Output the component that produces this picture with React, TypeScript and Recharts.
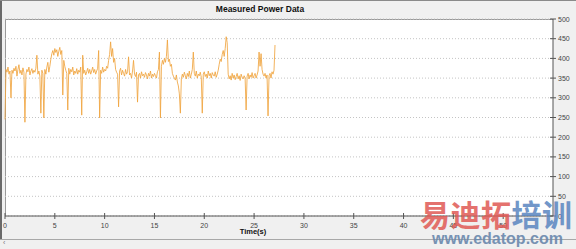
import React from 'react'
import { LineChart, Line, XAxis, YAxis, CartesianGrid } from 'recharts'

// sampled every 0.1 s
const SAMPLE_STEP = 0.1

const POWER = [
  245, 372, 365, 378, 360, 368, 300, 370, 362, 375,
  368, 380, 355, 372, 384, 362, 370, 358, 376, 365,
  238, 360, 372, 366, 378, 358, 368, 374, 362, 370,
  365, 375, 408, 360, 368, 355, 261, 370, 362, 249,
  372, 360, 378, 390, 365, 380, 398, 412, 420, 408,
  425, 415, 422, 405, 418, 428, 410, 420, 307, 395,
  380, 370, 362, 269, 375, 360, 372, 366, 378, 358,
  368, 362, 374, 360, 370, 365, 378, 256, 408, 362,
  370, 358, 366, 375, 362, 372, 360, 368, 378, 364,
  372, 360, 368, 375, 420, 249, 370, 362, 378, 365,
  372, 368, 380, 375, 395, 410, 442, 405, 425, 390,
  400, 372, 365, 360, 277, 368, 375, 358, 370, 362,
  355, 372, 360, 366, 404, 358, 362, 350, 368, 395,
  360, 354, 365, 289, 358, 362, 350, 366, 356, 360,
  352, 364, 358, 348, 362, 355, 368, 350, 360, 354,
  362, 356, 350, 366, 372, 416, 249, 380, 395, 385,
  400, 390, 405, 447, 392, 398, 380, 385, 362, 355,
  350, 345, 358, 340, 330, 310, 261, 348, 360, 352,
  365, 356, 348, 362, 354, 368, 350, 360, 372, 416,
  362, 355, 368, 350, 360, 356, 365, 352, 261, 360,
  366, 354, 360, 350, 368, 356, 362, 350, 364, 358,
  355, 366, 352, 360, 370, 385, 398, 392, 410, 420,
  405, 425, 455, 440, 360, 348, 356, 345, 362, 350,
  358, 346, 354, 362, 348, 356, 344, 360, 352, 348,
  356, 350, 269, 355, 362, 348, 358, 352, 364, 350,
  356, 362, 350, 358, 368, 416, 380, 412, 372, 360,
  355, 362, 350, 358, 254, 356, 362, 350, 366, 360,
  370, 434,
]

const X_TICKS = [0, 5, 10, 15, 20, 25, 30, 35, 40, 45, 50]
const Y_TICKS = [0, 50, 100, 150, 200, 250, 300, 350, 400, 450, 500]

const data = POWER.map((p, i) => ({ t: +(i * SAMPLE_STEP).toFixed(1), p }))

const FONT = '"Liberation Sans", Arial, sans-serif'

const XTick = ({ x, y, payload }: any) => (
  <g>
    <line x1={x} x2={x} y1={y - 3} y2={y + 3} stroke="#555" />
    <text x={x} y={y + 11.5} textAnchor="middle" fontSize={7} fill="#444" fontFamily={FONT}>
      {payload.value}
    </text>
  </g>
)

const YTick = ({ x, y, payload }: any) => (
  <g>
    <line x1={x - 3} x2={x + 3} y1={y} y2={y} stroke="#555" />
    <text x={x + 5} y={y + 2.5} textAnchor="start" fontSize={7} fill="#444" fontFamily={FONT}>
      {payload.value}
    </text>
  </g>
)

export default function App() {
  return (
    <div
      style={{
        position: 'absolute',
        left: 0,
        top: 0,
        width: 576,
        height: 249,
        background: '#f0f0f0',
        overflow: 'hidden',
        fontFamily: FONT,
      }}
    >
      <div style={{ position: 'absolute', left: 0, top: 0, width: 2, height: 240, background: '#6a6a6a' }} />
      <div style={{ position: 'absolute', left: 0, top: 0, width: 576, height: 1, background: '#8a8a8a' }} />
      <div style={{ position: 'absolute', left: 0, top: 239, width: 576, height: 1, background: '#a8a8a8' }} />
      <div style={{ position: 'absolute', left: 3, top: 239, fontSize: 7, color: '#777' }}>‹</div>

      <div
        style={{
          position: 'absolute',
          left: 160,
          width: 200,
          top: 4,
          textAlign: 'center',
          fontSize: 8.5,
          fontWeight: 'bold',
          color: '#111',
        }}
      >
        Measured Power Data
      </div>

      {/* plot background */}
      <div
        style={{
          position: 'absolute',
          left: 5,
          top: 19,
          width: 548,
          height: 197,
          background: '#fff',
          borderLeft: '1px solid #999',
          borderTop: '1px solid #999',
          boxSizing: 'border-box',
        }}
      />

      <div style={{ position: 'absolute', left: 0, top: 0 }}>
        <LineChart width={576} height={249} data={data} margin={{ top: 19, right: 3, bottom: 13, left: 5 }}>
          <CartesianGrid vertical={false} stroke="#c4c4c4" strokeDasharray="1 2" />
          <XAxis
            dataKey="t"
            type="number"
            domain={[0, 55]}
            ticks={X_TICKS}
            height={20}
            tickSize={0}
            tickMargin={0}
            tickLine={false}
            axisLine={{ stroke: '#555' }}
            tick={<XTick />}
            interval={0}
          />
          <YAxis
            orientation="right"
            type="number"
            domain={[0, 500]}
            ticks={Y_TICKS}
            width={20}
            tickSize={0}
            tickMargin={0}
            tickLine={false}
            axisLine={{ stroke: '#555' }}
            tick={<YTick />}
            interval={0}
          />
          <Line
            type="linear"
            dataKey="p"
            stroke="#f0a540"
            strokeOpacity={0.85}
            strokeWidth={1}
            dot={false}
            isAnimationActive={false}
          />
        </LineChart>
      </div>

      <div
        style={{
          position: 'absolute',
          left: 213,
          width: 80,
          top: 227,
          textAlign: 'center',
          fontSize: 7.5,
          fontWeight: 'bold',
          color: '#111',
        }}
      >
        Time(s)
      </div>

      {/* site watermark */}
      <div
        style={{
          position: 'absolute',
          left: 420,
          top: 197,
          fontSize: 30,
          fontWeight: 'bold',
          fontFamily: '"Noto Sans CJK SC", sans-serif',
          letterSpacing: 0.5,
          opacity: 0.85,
          whiteSpace: 'nowrap',
          lineHeight: 1.1,
        }}
      >
        <span style={{ color: '#e05a55' }}>易迪拓</span>
        <span style={{ color: '#5a86c0' }}>培训</span>
      </div>
      <div
        style={{
          position: 'absolute',
          left: 432,
          top: 230,
          fontSize: 16,
          fontWeight: 'bold',
          color: '#6a88ad',
          fontFamily: FONT,
          whiteSpace: 'nowrap',
          opacity: 0.9,
        }}
      >
        www.edatop.com
      </div>
    </div>
  )
}
